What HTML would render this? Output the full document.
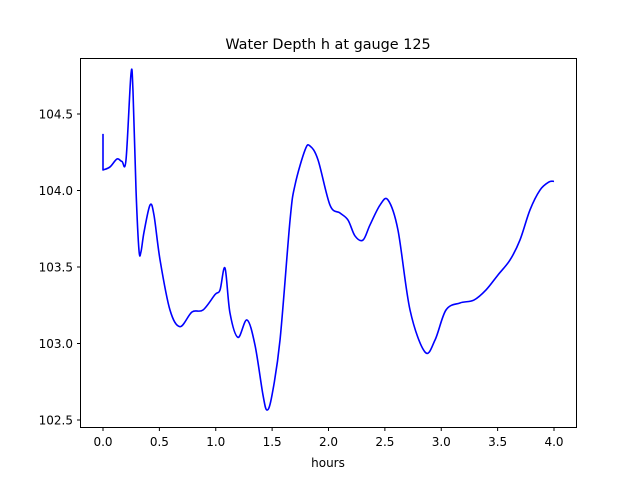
<!DOCTYPE html>
<html><head><meta charset="utf-8">
<style>
body{margin:0;background:#fff;}
svg{display:block;font-family:"DejaVu Sans","Liberation Sans",sans-serif;}
</style></head>
<body>
<svg id="chart" width="640" height="480">
<rect width="640" height="480" fill="#fff"/>
<text x="328" y="49" font-size="14.4" text-anchor="middle">Water Depth h at gauge 125</text>
<g id="ticks"></g>
<path id="series" fill="none" stroke="#0000ff" stroke-width="1.6" stroke-linejoin="round"/>
<rect x="80.5" y="58.5" width="496" height="369" fill="none" stroke="#000" stroke-width="1"/>
<text x="328" y="467" font-size="12" text-anchor="middle">hours</text>
</svg>
<script>
const hours=[0,0,0.062,0.124,0.168,0.204,0.248,0.266,0.293,0.319,0.337,0.364,0.417,0.452,0.506,0.594,0.683,0.789,0.887,0.994,1.038,1.082,1.126,1.197,1.277,1.348,1.419,1.455,1.499,1.570,1.659,1.703,1.792,1.836,1.907,2.013,2.102,2.173,2.235,2.306,2.368,2.457,2.528,2.616,2.723,2.856,2.945,3.042,3.166,3.29,3.397,3.503,3.610,3.698,3.787,3.876,3.956,4.0];
const depth=[104.37,104.134,104.154,104.206,104.19,104.2,104.76,104.65,104.0,103.61,103.6,103.729,103.905,103.84,103.546,103.219,103.11,103.206,103.219,103.32,103.35,103.493,103.2,103.04,103.154,102.99,102.663,102.565,102.663,103.023,103.807,104.036,104.265,104.291,104.2,103.905,103.853,103.807,103.703,103.676,103.775,103.905,103.938,103.742,103.219,102.944,103.023,103.219,103.265,103.284,103.35,103.448,103.546,103.676,103.873,104.003,104.056,104.06];
const xTicks=[0,0.5,1,1.5,2,2.5,3,3.5,4];
const xTickLabels=["0.0","0.5","1.0","1.5","2.0","2.5","3.0","3.5","4.0"];
const yTicks=[102.5,103,103.5,104,104.5];
const yTickLabels=["102.5","103.0","103.5","104.0","104.5"];
const sx=v=>103+v*112.75;
const sy=v=>114+(104.5-v)*153;
const NS="http://www.w3.org/2000/svg";
const g=document.getElementById('ticks');
function mk(t,a){const e=document.createElementNS(NS,t);for(const k in a)e.setAttribute(k,a[k]);g.appendChild(e);return e;}
xTicks.forEach((v,i)=>{const x=sx(v);
 const l=mk('line',{x1:x,x2:x,y1:427.5,y2:431,stroke:'#000'});
 
 
 const t=mk('text',{x:x,y:446,'font-size':12,'text-anchor':'middle'});t.textContent=xTickLabels[i];
 
 
});
yTicks.forEach((v,i)=>{const y=sy(v);
 const l=mk('line',{x1:77,x2:80.5,y1:y,y2:y,stroke:'#000'});
 
 
 const t=mk('text',{x:73,y:y+4.5,'font-size':12,'text-anchor':'end'});t.textContent=yTickLabels[i];
 
 
});
const P=hours.map((h,i)=>[sx(h),sy(depth[i])]);
let d='M'+P[0][0]+','+P[0][1]+'L'+P[1][0]+','+P[1][1];
for(let i=1;i<P.length-1;i++){
 const p0=P[Math.max(1,i-1)],p1=P[i],p2=P[i+1],p3=P[Math.min(P.length-1,i+2)];
 const c1=[p1[0]+(p2[0]-p0[0])/6,p1[1]+(p2[1]-p0[1])/6];
 const c2=[p2[0]-(p3[0]-p1[0])/6,p2[1]-(p3[1]-p1[1])/6];
 d+='C'+c1+' '+c2+' '+p2;
}
document.getElementById('series').setAttribute('d',d);
</script>
</body></html>
